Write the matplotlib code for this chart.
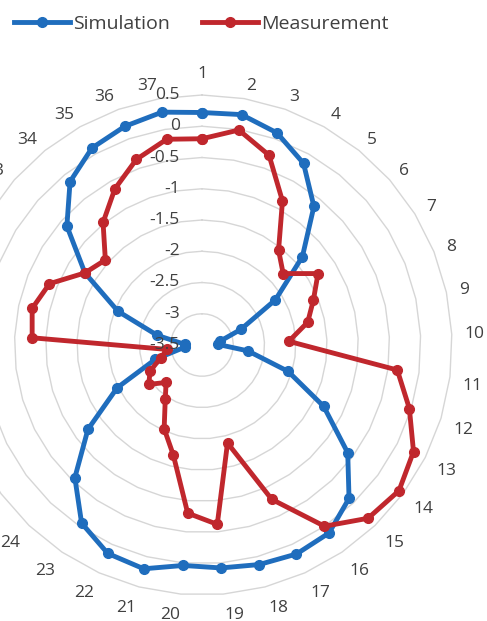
import numpy as np
import matplotlib
matplotlib.use("Agg")
import matplotlib.pyplot as plt

plt.rcParams['font.family'] = ['Open Sans', 'DejaVu Sans']

# Radiation pattern, 37 angular positions
categories = [str(i) for i in range(1, 38)]
simulation = [0.22, 0.24, 0.10, -0.17, -0.65, -1.36, -2.12, -2.83, -3.20, -3.25,
              -2.76, -2.06, -1.32, -0.60, -0.10, 0.13, 0.17, 0.13, 0.08, 0.04,
              0.20, 0.16, -0.06, -0.56, -1.23, -1.98, -2.72, -3.22, -3.22, -2.77,
              -2.05, -1.30, -0.62, -0.14, 0.11, 0.21, 0.28]
measurement = [-0.20, -0.01, -0.28, -0.86, -1.55, -1.77, -1.32, -1.58, -1.77, -2.11,
               -0.35, -0.03, 0.29, 0.42, 0.34, 0.00, -0.79, -1.88, -0.62, -0.80,
               -1.68, -2.03, -2.45, -2.67, -2.44, -2.57, -2.81, -2.94, -0.78, -0.72,
               -0.87, -1.30, -1.44, -0.98, -0.64, -0.35, -0.16]
r_ticks = [-3.5, -3, -2.5, -2, -1.5, -1, -0.5, 0, 0.5]
r_tick_labels = ["-3.5", "-3", "-2.5", "-2", "-1.5", "-1", "-0.5", "0", "0.5"]

W, H = 487, 621
fig = plt.figure(figsize=(W / 100, H / 100), dpi=100)

cx, cy, R = 202, 345, 250
ax = fig.add_axes([(cx - R) / W, (H - cy - R) / H, 2 * R / W, 2 * R / H], projection='polar')
ax.set_theta_zero_location('N')
ax.set_theta_direction(-1)
ax.set_ylim(r_ticks[0], r_ticks[-1])
ax.set_axis_off()

n = len(categories)
theta = np.arange(n) * 2 * np.pi / n
theta_closed = np.append(theta, theta[0])
px_per_unit = R / (r_ticks[-1] - r_ticks[0])

# Polygonal gridlines
grid_col = '#d6d6d6'
for v in r_ticks[1:]:
    ax.plot(theta_closed, [v] * (n + 1), color=grid_col, lw=1.0, zorder=1, clip_on=False)

blue = '#1f6dbd'
red = '#c0272d'
sim_closed = simulation + simulation[:1]
meas_closed = measurement + measurement[:1]
l1, = ax.plot(theta_closed, sim_closed, color=blue, lw=3.5, marker='o', ms=7,
              label='Simulation', zorder=3, clip_on=False)
l2, = ax.plot(theta_closed, meas_closed, color=red, lw=3.5, marker='o', ms=7,
              label='Measurement', zorder=4, clip_on=False)

txt_col = '#404040'
for v, s in zip(r_ticks, r_tick_labels):
    ax.annotate(s, xy=(0, v), xytext=(-22, 0), textcoords='offset pixels',
                ha='right', va='center', fontsize=12.5, color=txt_col, zorder=5,
                annotation_clip=False)

# Category labels just outside the outer ring, aligned away from the centre
r_lab = r_ticks[-1] + 13 / px_per_unit
for t, s in zip(theta, categories):
    st, ct = np.sin(t), np.cos(t)
    ha = 'left' if st > 0.05 else ('right' if st < -0.05 else 'center')
    if ct < -0.05:
        va = 'top'
    elif ha == 'center':
        va = 'bottom'
    else:
        va = 'center'
    ax.text(t, r_lab, s, ha=ha, va=va, fontsize=12.5, color=txt_col, clip_on=False)

fig.legend(handles=[l1, l2], loc='upper left', bbox_to_anchor=(6 / W, 1 - 7 / H), ncol=2,
           frameon=False, fontsize=14, handlelength=2.9, handletextpad=0.15,
           columnspacing=1.65, labelcolor=txt_col, borderaxespad=0.0)

fig.savefig('out.png', dpi=100)
